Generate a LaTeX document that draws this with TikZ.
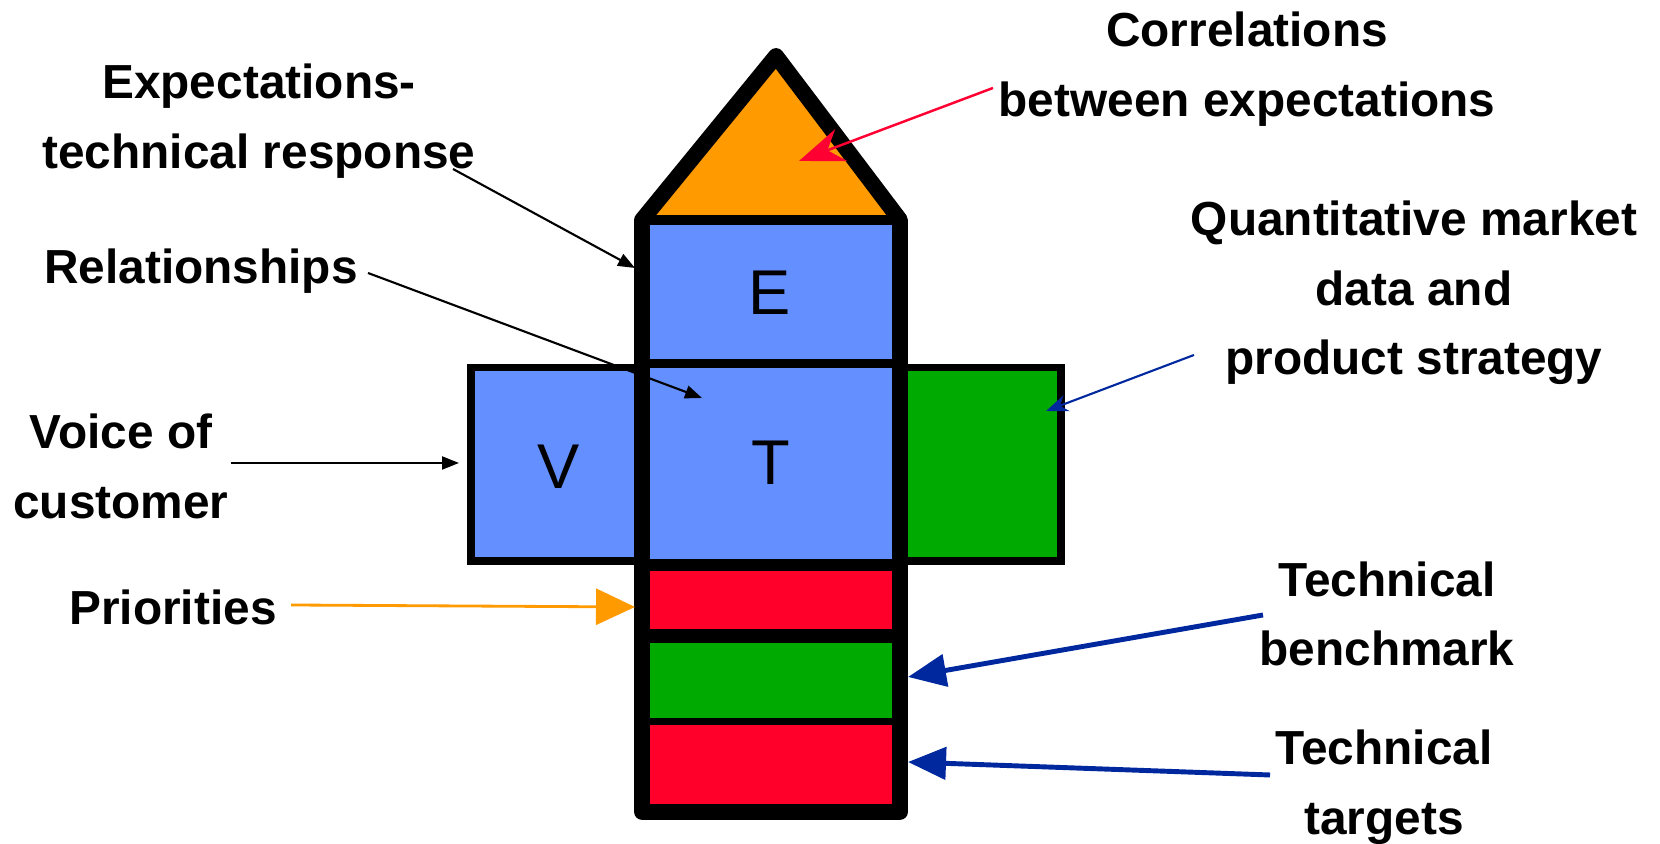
\documentclass[tikz,border=0pt]{standalone}
\usepackage{fontspec}
\setmainfont{Liberation Sans}
\usepackage{tikz}
\usetikzlibrary{arrows.meta}
\definecolor{qfdBlue}{RGB}{100,143,255}
\definecolor{qfdGreen}{RGB}{0,170,0}
\definecolor{qfdRed}{RGB}{255,0,43}
\definecolor{qfdOrange}{RGB}{255,154,0}
\definecolor{arrowBlue}{RGB}{0,40,158}
\definecolor{arrowRed}{RGB}{255,0,51}
\tikzset{
  qfd label/.style={align=center,font=\fontsize{13.6pt}{19.8pt}\selectfont\bfseries,inner sep=0mm},
  qfd letter/.style={font=\fontsize{18pt}{20pt}\selectfont,inner sep=0mm},
  thin box/.style={draw=black,line width=2.2pt},
  house line/.style={line width=4.5pt,line join=round},
  thin arrow/.style={line width=0.6pt,-{Triangle[length=1.7mm,width=1.3mm]}},
  fat arrow/.style={line width=1.4pt,-{Triangle[length=3.8mm,width=3.2mm]}}
}

\begin{document}
\begin{tikzpicture}
\useasboundingbox (0,0) rectangle (16.6,8.44);

% side boxes
\draw[thin box,fill=qfdBlue] (4.71,2.83) rectangle (6.42,4.765);
\draw[thin box,fill=qfdGreen] (9.0,2.83) rectangle (10.61,4.765);

% house
\fill[qfdOrange] (6.42,6.24) -- (7.76,7.88) -- (9.0,6.24) -- cycle;
\fill[qfdBlue] (6.42,2.79) rectangle (9.0,6.24);
\fill[qfdRed] (6.42,2.08) rectangle (9.0,2.79);
\fill[qfdGreen] (6.42,1.225) rectangle (9.0,2.08);
\fill[qfdRed] (6.42,0.32) rectangle (9.0,1.225);
\draw[line width=2.6pt] (6.42,6.24) -- (9.0,6.24);
\draw[line width=2.6pt] (6.42,4.805) -- (9.0,4.805);
\draw[line width=3.4pt] (6.42,2.79) -- (9.0,2.79);
\draw[line width=4pt] (6.42,2.08) -- (9.0,2.08);
\draw[line width=2pt] (6.42,1.225) -- (9.0,1.225);
\draw[house line] (6.42,0.32) -- (6.42,6.24) -- (7.76,7.88) -- (9.0,6.24) -- (9.0,0.32) -- cycle;

\node[qfd letter] (eLetter) at (7.70,5.51) {E};
\node[qfd letter] (tLetter) at (7.71,3.81) {T};
\node[qfd letter] (vLetter) at (5.59,3.77) {V};

% labels
\node[qfd label] (corrLabel) at (12.47,7.75) {Correlations\\between expectations};
\node[qfd label] (expLabel) at (2.59,7.23) {Expectations-\\technical response};
\node[qfd label] (relLabel) at (2.01,5.73) {Relationships};
\node[qfd label] (voiceLabel) at (1.21,3.775) {Voice of\\customer};
\node[qfd label] (prioLabel) at (1.73,2.37) {Priorities};
\node[qfd label] (marketLabel) at (14.14,5.51) {Quantitative market\\data and\\product strategy};
\node[qfd label] (benchLabel) at (13.87,2.30) {Technical\\benchmark};
\node[qfd label] (targetLabel) at (13.84,0.565) {Technical\\targets};

% arrows
\coordinate (corrFrom) at (9.93,7.56);
\coordinate (corrTo) at (7.99,6.83);
\draw[arrowRed,line width=0.7pt,-{Stealth[length=4.5mm,width=3.4mm]}] (corrFrom) -- (corrTo);
\coordinate (expFrom) at (4.53,6.75);
\coordinate (expTo) at (6.35,5.76);
\draw[thin arrow] (expFrom) -- (expTo);
\coordinate (relFrom) at (3.68,5.71);
\coordinate (relTo) at (7.02,4.46);
\draw[thin arrow] (relFrom) -- (relTo);
\coordinate (voiceFrom) at (2.31,3.81);
\coordinate (voiceTo) at (4.59,3.81);
\draw[thin arrow] (voiceFrom) -- (voiceTo);
\coordinate (prioFrom) at (2.91,2.39);
\coordinate (prioTo) at (6.35,2.37);
\draw[qfdOrange,line width=0.8pt,-{Triangle[length=3.9mm,width=3.6mm]}] (prioFrom) -- (prioTo);
\coordinate (marketFrom) at (11.94,4.89);
\coordinate (marketTo) at (10.46,4.33);
\draw[arrowBlue,thin arrow,-{Stealth[length=2.2mm,width=1.7mm]}] (marketFrom) -- (marketTo);
\coordinate (benchFrom) at (12.63,2.29);
\coordinate (benchTo) at (9.08,1.67);
\draw[arrowBlue,fat arrow] (benchFrom) -- (benchTo);
\coordinate (targetFrom) at (12.70,0.69);
\coordinate (targetTo) at (9.08,0.82);
\draw[arrowBlue,fat arrow] (targetFrom) -- (targetTo);
\end{tikzpicture}
\end{document}
